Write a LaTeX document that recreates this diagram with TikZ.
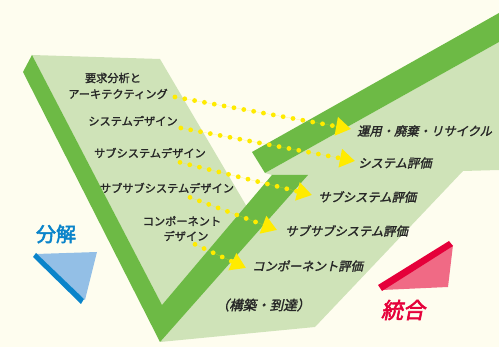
\documentclass[tikz,border=0pt]{standalone}
\usepackage{fontspec}
\usetikzlibrary{arrows.meta,calc}
\newfontfamily\jp[FakeBold=1.6]{Noto Sans CJK JP}
\newfontfamily\jpit[FakeSlant=0.22,FakeBold=1.8]{Noto Sans CJK JP}
\newfontfamily\jpbold[FakeBold=2.5]{Noto Sans CJK JP}
\newfontfamily\jpboldit[FakeBold=2.5,FakeSlant=0.2]{Noto Sans CJK JP}
\definecolor{cream}{HTML}{FEFDEF}
\definecolor{lgreen}{HTML}{CFE3B8}
\definecolor{dgreen}{HTML}{6DBA45}
\definecolor{dotyel}{HTML}{FFEB00}
\definecolor{lblue}{HTML}{93BFE6}
\definecolor{dblue}{HTML}{0A84CA}
\definecolor{lred}{HTML}{F06A85}
\definecolor{dred}{HTML}{E5003A}
\begin{document}
\begin{tikzpicture}[x=1pt,y=-1pt,
  lbl/.style={font=\jp\fontsize{11.2}{12}\selectfont, inner sep=0pt, text=black!85},
  rlbl/.style={font=\jpit\fontsize{12.3}{13}\selectfont, inner sep=0pt, anchor=west, text=black!85},
  dotarrow/.style={draw=dotyel, fill=dotyel, line width=4.8pt, line cap=round,
    dash pattern=on 0pt off 10pt, -{Triangle[length=15pt,width=18pt]}}
]
\fill[cream] (0,0) rectangle (499,347);
\useasboundingbox (0,0) rectangle (499,347);
% panels
\fill[lgreen] (265,173) -- (499,42) -- (499,170) -- (463,171) -- (315,327) -- (160,342) -- (272,175) -- cycle;
\fill[lgreen] (32,55) -- (160,59) -- (247,207) -- (162,305) -- cycle;
\fill[dgreen] (32,55) -- (23,72) -- (160,342) -- (308,175) -- (272,175) -- (162,305) -- cycle;
\fill[dgreen] (252,152) -- (499,13) -- (499,42) -- (265,173) -- cycle;
% left labels
\node[lbl] (l1a) at (113,78) {要求分析と};
\node[lbl] (l1b) at (118,94) {アーキテクティング};
\node[lbl] (l2) at (133,121) {システムデザイン};
\node[lbl] (l3) at (150,153) {サブシステムデザイン};
\node[lbl] (l4) at (167,188) {サブサブシステムデザイン};
\node[lbl] (l5a) at (182,221) {コンポーネント};
\node[lbl] (l5b) at (186,236) {デザイン};
% right labels
\node[rlbl] (r1) at (357,131) {運用・廃棄・リサイクル};
\node[rlbl] (r2) at (358,163) {システム評価};
\node[rlbl] (r3) at (318,197) {サブシステム評価};
\node[rlbl] (r4) at (285,231) {サブサブシステム評価};
\node[rlbl] (r5) at (252,266) {コンポーネント評価};
\node[rlbl, anchor=center, font=\jpit\fontsize{13.5}{14}\selectfont] (build) at (263,305) {（構築・到達）};
% arrows
\draw[dotarrow] ($(l1b.east)+(7,3)$) -- ($(r1.west)+(-6,-2)$);
\draw[dotarrow] ($(l2.east)+(3,7)$) -- ($(r2.west)+(-3,-2)$);
\draw[dotarrow] ($(l3.south)+(30,4)$) -- ($(r3.west)+(-6,-2)$);
\draw[dotarrow] ($(l4.south)+(23,4)$) -- ($(r4.west)+(-8,-1)$);
\draw[dotarrow] ($(l5b.south)+(9,3)$) -- ($(r5.west)+(-6,2)$);
% decomposition
\fill[lblue] (36,254) -- (97,252) -- (85,300) -- cycle;
\fill[dblue] (33,257) -- (36,253) -- (84,299) -- (81,304) -- cycle;
\node[font=\jpbold\fontsize{20}{20}\selectfont, text=dblue, inner sep=0pt] (bunkai) at (56,234) {分解};
% integration
\fill[lred] (382,290) -- (453,245) -- (448,287) -- cycle;
\fill[dred] (378,285) -- (449,241) -- (453,246) -- (382,291) -- cycle;
\node[font=\jpboldit\fontsize{22}{22}\selectfont, text=dred, inner sep=0pt] (tougou) at (403,310) {統合};
\end{tikzpicture}
\end{document}
